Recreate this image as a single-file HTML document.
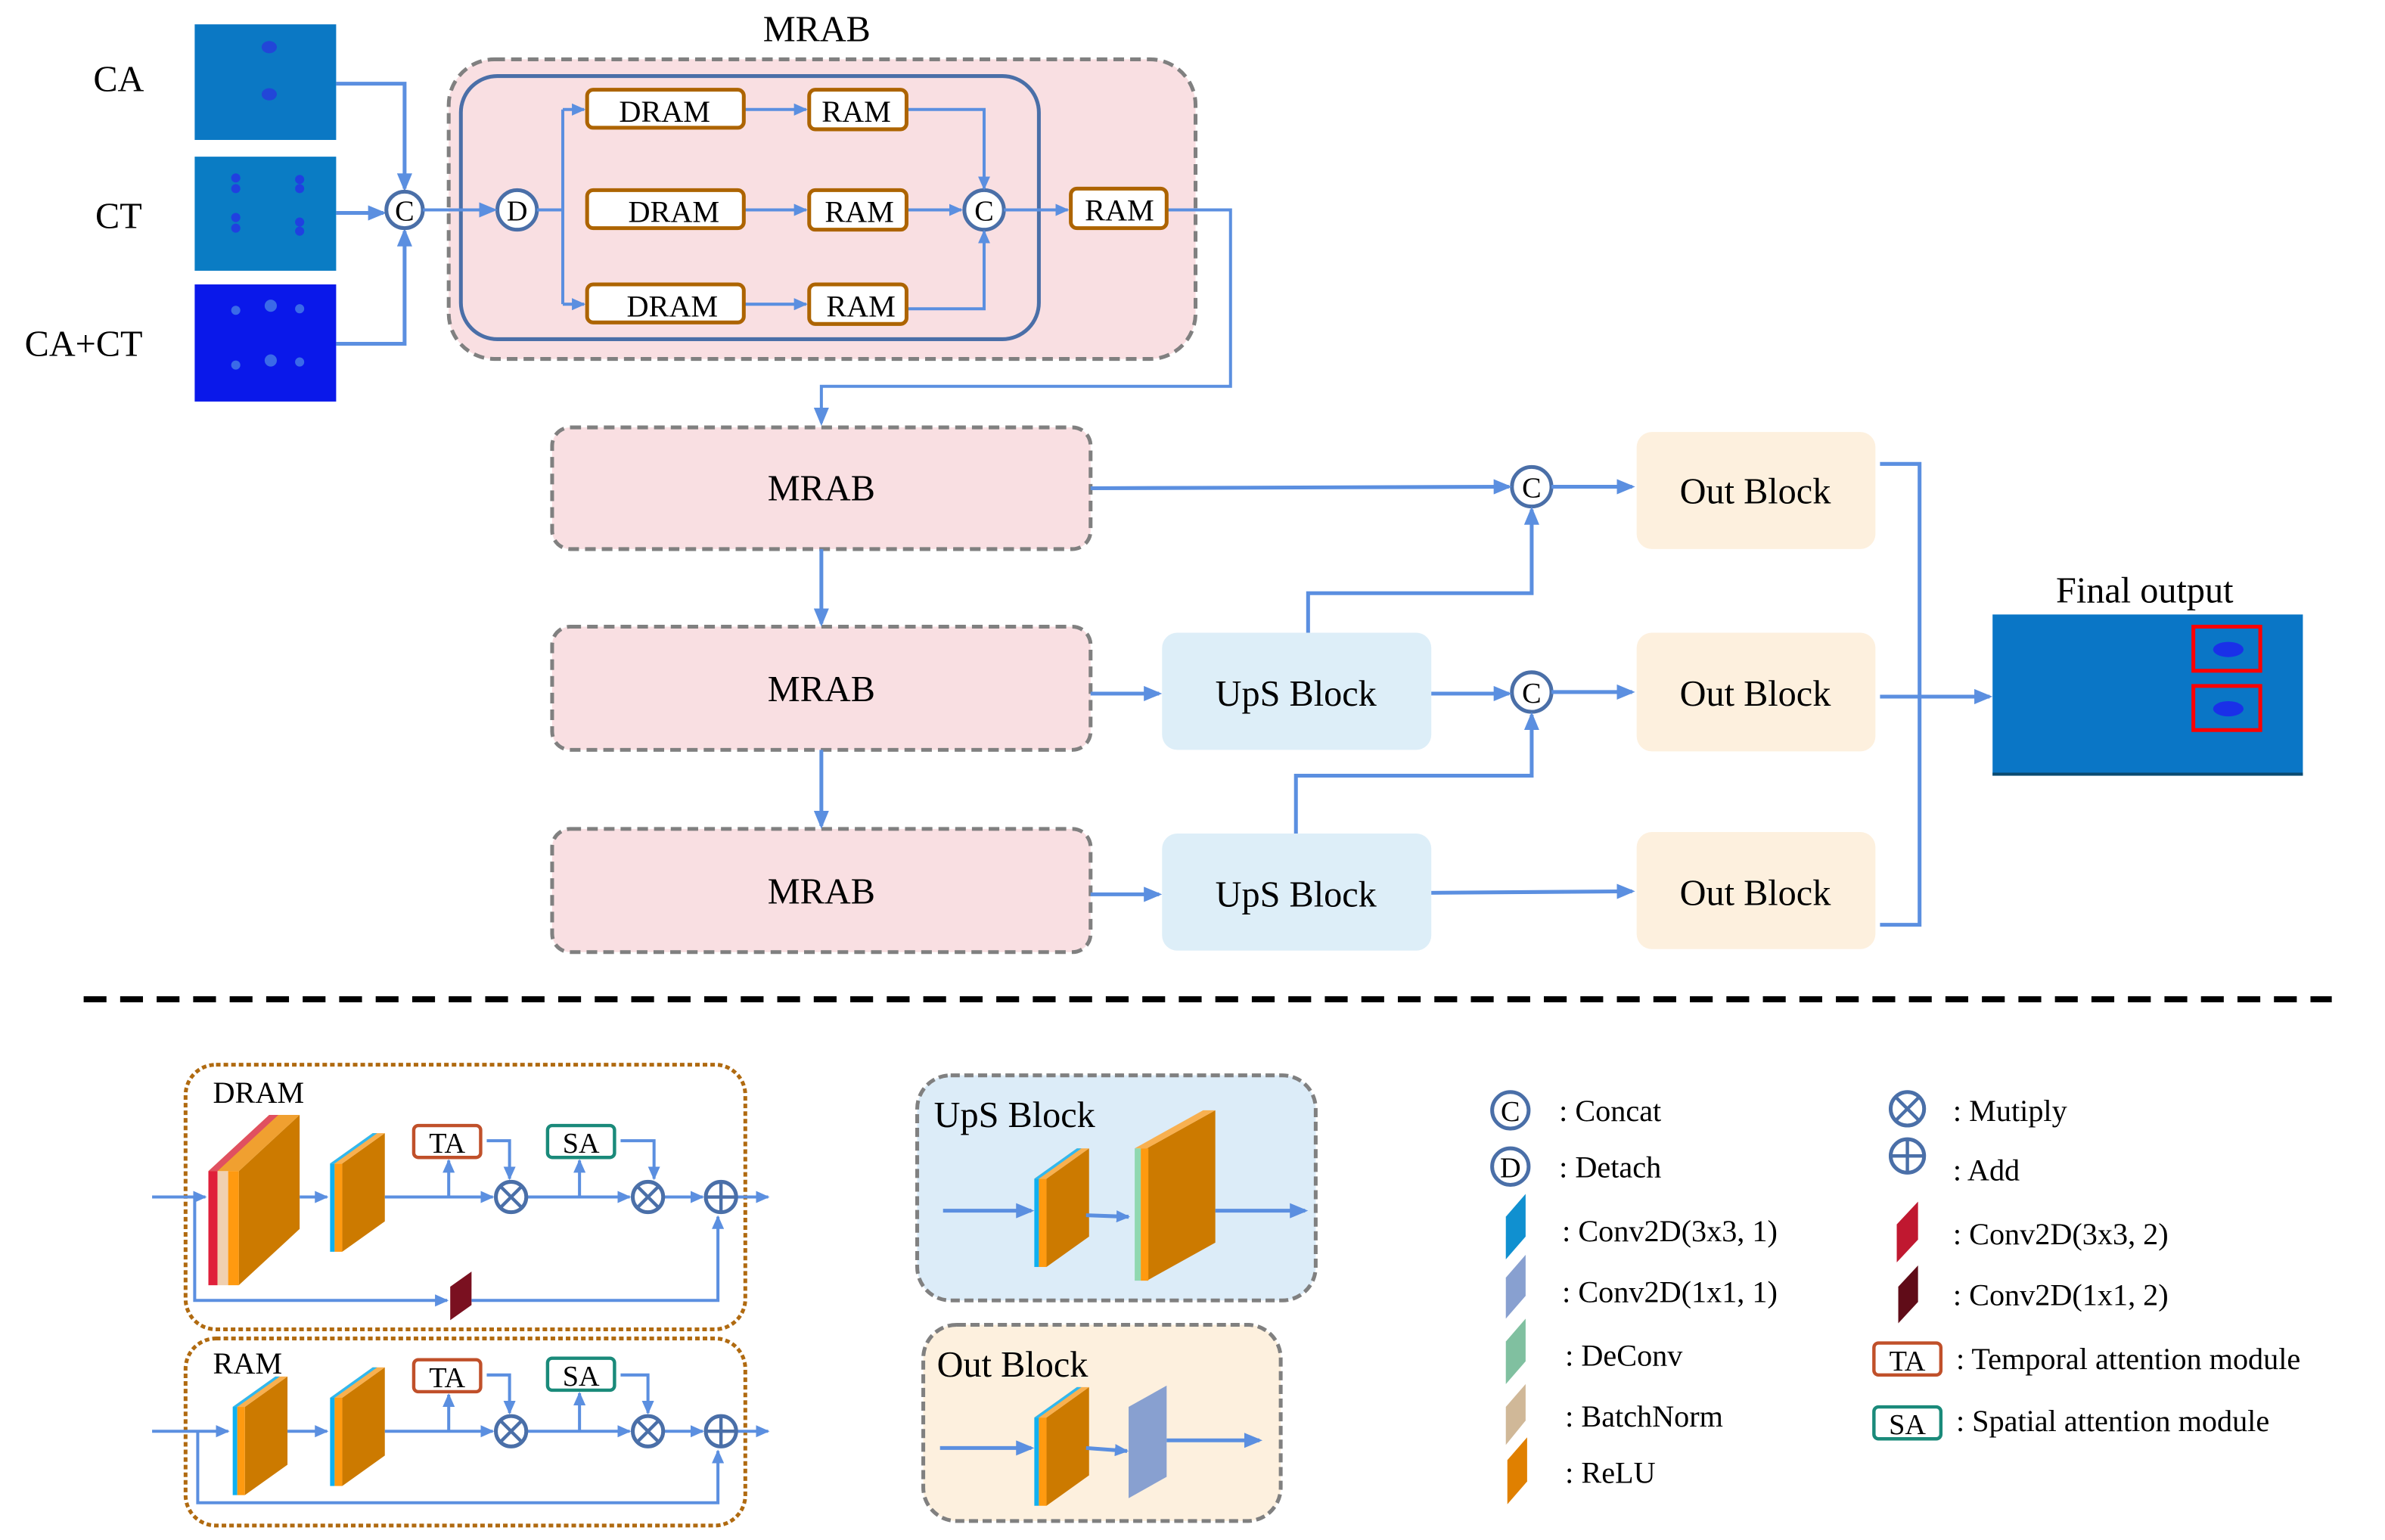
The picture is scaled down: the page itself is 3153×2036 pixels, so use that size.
<!DOCTYPE html>
<html><head><meta charset="utf-8"><style>html,body{margin:0;padding:0;background:#fff}svg{display:block}text{font-family:"Liberation Serif","DejaVu Serif","Times New Roman",serif;fill:#000}</style></head><body>
<svg width="3153" height="2036" viewBox="0 0 1568 1012.5" xmlns="http://www.w3.org/2000/svg" font-family="Liberation Serif, DejaVu Serif, serif">
<defs>
<marker id="a" markerWidth="12" markerHeight="10" refX="10" refY="5" orient="auto" markerUnits="userSpaceOnUse"><path d="M0,0 L12,5 L0,10 Z" fill="#5b8fe0"/></marker>
<marker id="s" markerWidth="9" markerHeight="8" refX="8" refY="4" orient="auto" markerUnits="userSpaceOnUse"><path d="M0,0 L9,4 L0,8 Z" fill="#5b8fe0"/></marker>
<g id="sb">
<polygon points="225,765 253,745 253,803 225,823" fill="#cc7a00"/>
<polygon points="217,765 245,745 253,745 225,765" fill="#f8b050"/>
<polygon points="217,765 245,745 248,745 220,765" fill="#30b8f0"/>
<rect x="217" y="765" width="3" height="58" fill="#10b0f0"/><rect x="220" y="765" width="5" height="58" fill="#ff9a10"/>
</g>
</defs>
<rect width="1568" height="1012.5" fill="#fff"/>
<!-- input images -->
<text x="78" y="60" font-size="24" text-anchor="middle">CA</text>
<text x="78" y="150" font-size="24" text-anchor="middle">CT</text>
<text x="55" y="234" font-size="24" text-anchor="middle">CA+CT</text>
<rect x="128" y="16" width="93" height="76" fill="#0b78c4"/>
<ellipse cx="177" cy="31" rx="5" ry="4" fill="#2246d8"/><ellipse cx="177" cy="62" rx="5" ry="4" fill="#2246d8"/>
<rect x="128" y="103" width="93" height="75" fill="#0a7cc4"/>
<g fill="#2040e0"><circle cx="155" cy="117" r="3"/><circle cx="155" cy="124" r="3"/><circle cx="197" cy="118" r="3"/><circle cx="197" cy="124" r="3"/><circle cx="155" cy="143" r="3"/><circle cx="155" cy="150" r="3"/><circle cx="197" cy="146" r="3"/><circle cx="197" cy="152" r="3"/></g>
<rect x="128" y="187" width="93" height="77" fill="#0a18ea"/>
<g fill="#3a6ae8"><circle cx="155" cy="204" r="3"/><circle cx="178" cy="201" r="4"/><circle cx="197" cy="203" r="3"/><circle cx="155" cy="240" r="3"/><circle cx="178" cy="237" r="4"/><circle cx="197" cy="238" r="3"/></g>
<g stroke="#5b8fe0" stroke-width="2.5" fill="none">
<path d="M221,55 H266 V124" marker-end="url(#a)"/>
<path d="M221,140 H252" marker-end="url(#a)"/>
<path d="M221,226 H266 V152" marker-end="url(#a)"/>
</g>
<!-- MRAB big -->
<text x="537" y="27" font-size="24" text-anchor="middle">MRAB</text>
<rect x="295" y="39" width="491" height="197" rx="30" fill="#f9dfe2" stroke="#808080" stroke-width="2.5" stroke-dasharray="7,4"/>
<rect x="303" y="50" width="380" height="173" rx="24" fill="none" stroke="#4a6fa8" stroke-width="2.5"/>
<g stroke="#4a6fa8" stroke-width="2.5" fill="#fff"><circle cx="266" cy="138" r="12"/><circle cx="340" cy="138" r="13"/><circle cx="647" cy="138" r="13"/></g>
<text x="266" y="145" font-size="19" text-anchor="middle">C</text>
<text x="340" y="145" font-size="19" text-anchor="middle">D</text>
<text x="647" y="145" font-size="19" text-anchor="middle">C</text>
<g stroke="#5b8fe0" stroke-width="2" fill="none">
<path d="M278,138 H325" marker-end="url(#a)"/>
<path d="M353,138 H370"/>
<path d="M370,72 V200"/>
<path d="M370,72 H384" marker-end="url(#s)"/>
<path d="M370,200 H384" marker-end="url(#s)"/>
<path d="M489,72 H530" marker-end="url(#s)"/>
<path d="M489,138 H530" marker-end="url(#s)"/>
<path d="M489,200 H530" marker-end="url(#s)"/>
<path d="M596,72 H647 V124" marker-end="url(#s)"/>
<path d="M596,138 H632" marker-end="url(#s)"/>
<path d="M596,203 H647 V152" marker-end="url(#s)"/>
<path d="M660,138 H702" marker-end="url(#s)"/>
<path d="M767,138 H809 V254 H540 V278" marker-end="url(#a)"/>
</g>
<g fill="#fff" stroke="#ad6400" stroke-width="2.5">
<rect x="386" y="59" width="103" height="25" rx="4"/><rect x="386" y="125" width="103" height="25" rx="4"/><rect x="386" y="187" width="103" height="25" rx="4"/>
<rect x="532" y="59" width="64" height="26" rx="4"/><rect x="532" y="125" width="64" height="26" rx="4"/><rect x="532" y="187" width="64" height="26" rx="4"/>
<rect x="704" y="124" width="63" height="26" rx="4"/>
</g>
<g font-size="20" text-anchor="middle">
<text x="437" y="80">DRAM</text><text x="443" y="146">DRAM</text><text x="442" y="208">DRAM</text>
<text x="563" y="80">RAM</text><text x="565" y="146">RAM</text><text x="566" y="208">RAM</text><text x="736" y="145">RAM</text>
</g>
<!-- MRAB rows -->
<g fill="#f9dfe2" stroke="#808080" stroke-width="2.5" stroke-dasharray="7,4">
<rect x="363" y="281" width="354" height="80" rx="12"/><rect x="363" y="412" width="354" height="81" rx="12"/><rect x="363" y="545" width="354" height="81" rx="12"/>
</g>
<g fill="#ddeef8"><rect x="764" y="416" width="177" height="77" rx="10"/><rect x="764" y="548" width="177" height="77" rx="10"/></g>
<g fill="#fdf0de"><rect x="1076" y="284" width="157" height="77" rx="10"/><rect x="1076" y="416" width="157" height="78" rx="10"/><rect x="1076" y="547" width="157" height="77" rx="10"/></g>
<g font-size="24" text-anchor="middle">
<text x="540" y="329">MRAB</text><text x="540" y="461">MRAB</text><text x="540" y="594">MRAB</text>
<text x="852" y="464">UpS Block</text><text x="852" y="596">UpS Block</text>
<text x="1154" y="331">Out Block</text><text x="1154" y="464">Out Block</text><text x="1154" y="595">Out Block</text>
</g>
<g stroke="#4a6fa8" stroke-width="2.5" fill="#fff"><circle cx="1007" cy="320" r="13"/><circle cx="1007" cy="455" r="13"/></g>
<text x="1007" y="327" font-size="19" text-anchor="middle">C</text>
<text x="1007" y="462" font-size="19" text-anchor="middle">C</text>
<g stroke="#5b8fe0" stroke-width="2.5" fill="none">
<path d="M540,361 V410" marker-end="url(#a)"/>
<path d="M540,493 V543" marker-end="url(#a)"/>
<path d="M717,321 L992,320" marker-end="url(#a)"/>
<path d="M1020,320 H1073" marker-end="url(#a)"/>
<path d="M860,416 V390 H1007 V335" marker-end="url(#a)"/>
<path d="M717,456 H762" marker-end="url(#a)"/>
<path d="M941,456 H992" marker-end="url(#a)"/>
<path d="M1020,455 H1073" marker-end="url(#a)"/>
<path d="M852,548 V510 H1007 V470" marker-end="url(#a)"/>
<path d="M717,588 H762" marker-end="url(#a)"/>
<path d="M941,587 L1073,586" marker-end="url(#a)"/>
<path d="M1236,305 H1262 V608 H1236"/>
<path d="M1236,458 H1308" marker-end="url(#a)"/>
</g>
<!-- final output -->
<text x="1410" y="396" font-size="24" text-anchor="middle">Final output</text>
<rect x="1310" y="404" width="204" height="106" fill="#0a76c6"/>
<rect x="1310" y="508" width="204" height="2" fill="#0a4a70"/>
<ellipse cx="1465" cy="427" rx="10" ry="5" fill="#1a30e8"/><ellipse cx="1465" cy="466" rx="10" ry="5" fill="#1a30e8"/>
<g fill="none" stroke="#ff0000" stroke-width="2.5"><rect x="1442" y="412" width="44" height="29"/><rect x="1442" y="451" width="44" height="29"/></g>
<!-- dashed separator -->
<line x1="55" y1="657" x2="1533" y2="657" stroke="#000" stroke-width="4" stroke-dasharray="15,9"/>
<!-- DRAM legend -->
<rect x="122" y="700" width="368" height="174" rx="20" fill="none" stroke="#b06a10" stroke-width="2.5" stroke-dasharray="3,2"/>
<text x="140" y="725" font-size="20">DRAM</text>
<rect x="122" y="880" width="368" height="123" rx="20" fill="none" stroke="#b06a10" stroke-width="2.5" stroke-dasharray="3,2"/>
<text x="140" y="903" font-size="20">RAM</text>
<!-- big block -->
<polygon points="157,770 197,733 197,808 157,845" fill="#cc7a00"/>
<polygon points="137,770 177,733 197,733 157,770" fill="#f0a030"/>
<polygon points="137,770 177,733 183,733 143,770" fill="#e05060"/>
<rect x="137" y="770" width="6" height="75" fill="#e0203a"/><rect x="143" y="770" width="7" height="75" fill="#f0d0b0"/><rect x="150" y="770" width="7" height="75" fill="#ff9a10"/>
<use href="#sb"/>
<use href="#sb" x="0" y="154"/>
<use href="#sb" x="-64" y="160"/>
<!-- dark red conv -->
<polygon points="296,846 310,836 310,858 296,868" fill="#7a1020"/>
<g fill="#fff" stroke-width="2.2"><rect x="272" y="740" width="44" height="21" rx="3" stroke="#c0502a"/><rect x="360" y="740" width="44" height="21" rx="3" stroke="#1a8a7a"/>
<rect x="272" y="894" width="44" height="21" rx="3" stroke="#c0502a"/><rect x="360" y="893" width="44" height="21" rx="3" stroke="#1a8a7a"/></g>
<g font-size="19" text-anchor="middle"><text x="294" y="758">TA</text><text x="382" y="758">SA</text><text x="294" y="912">TA</text><text x="382" y="911">SA</text></g>
<g stroke="#5b8fe0" stroke-width="2" fill="none">
<path d="M100,787 H135" marker-end="url(#s)"/>
<path d="M197,787 H215" marker-end="url(#s)"/>
<path d="M253,787 H324" marker-end="url(#s)"/>
<path d="M295,787 V763" marker-end="url(#s)"/>
<path d="M320,750 H335 V775" marker-end="url(#s)"/>
<path d="M347,787 H414" marker-end="url(#s)"/>
<path d="M381,787 V763" marker-end="url(#s)"/>
<path d="M408,750 H430 V775" marker-end="url(#s)"/>
<path d="M437,787 H462" marker-end="url(#s)"/>
<path d="M485,787 H505" marker-end="url(#s)"/>
<path d="M128,787 V855 H294" marker-end="url(#s)"/>
<path d="M310,855 H472 V800" marker-end="url(#s)"/>
<path d="M100,941 H150" marker-end="url(#s)"/>
<path d="M189,941 H215" marker-end="url(#s)"/>
<path d="M253,941 H324" marker-end="url(#s)"/>
<path d="M295,941 V917" marker-end="url(#s)"/>
<path d="M320,904 H335 V929" marker-end="url(#s)"/>
<path d="M347,941 H414" marker-end="url(#s)"/>
<path d="M381,941 V916" marker-end="url(#s)"/>
<path d="M408,904 H426 V929" marker-end="url(#s)"/>
<path d="M437,941 H462" marker-end="url(#s)"/>
<path d="M485,941 H505" marker-end="url(#s)"/>
<path d="M130,941 V988 H472 V954" marker-end="url(#s)"/>
</g>
<g stroke="#4a6fa8" stroke-width="2.5" fill="#fff">
<circle cx="336" cy="787" r="10"/><circle cx="426" cy="787" r="10"/><circle cx="474" cy="787" r="10"/>
<circle cx="336" cy="941" r="10"/><circle cx="426" cy="941" r="10"/><circle cx="474" cy="941" r="10"/>
<circle cx="1254" cy="729" r="11"/><circle cx="1254" cy="760" r="11"/>
</g>
<g stroke="#4a6fa8" stroke-width="2.2">
<path d="M329,780 L343,794 M343,780 L329,794 M419,780 L433,794 M433,780 L419,794 M464,787 H484 M474,777 V797"/>
<path d="M329,934 L343,948 M343,934 L329,948 M419,934 L433,948 M433,934 L419,948 M464,941 H484 M474,931 V951"/>
<path d="M1246,721 L1262,737 M1262,721 L1246,737 M1243,760 H1265 M1254,749 V771"/>
</g>
<!-- UpS / Out legend -->
<rect x="603" y="707" width="262" height="148" rx="22" fill="#dcecf8" stroke="#808080" stroke-width="2.5" stroke-dasharray="6,3"/>
<text x="614" y="741" font-size="24">UpS Block</text>
<use href="#sb" x="463" y="10"/>
<polygon points="754,755 799,730 799,817 754,842" fill="#cc7a00"/>
<polygon points="746,755 791,730 799,730 754,755" fill="#f8b050"/>
<rect x="746" y="755" width="4" height="87" fill="#90d8b0"/><rect x="750" y="755" width="5" height="87" fill="#ff9a10"/>
<rect x="607" y="871" width="235" height="129" rx="22" fill="#fdf0de" stroke="#808080" stroke-width="2.5" stroke-dasharray="6,3"/>
<text x="616" y="905" font-size="24">Out Block</text>
<use href="#sb" x="463" y="167"/>
<polygon points="742,925 767,911 767,971 742,985" fill="#88a0d0"/>
<g stroke="#5b8fe0" stroke-width="2.5" fill="none">
<path d="M620,796 H678" marker-end="url(#a)"/>
<path d="M714,799 L742,800" marker-end="url(#s)"/>
<path d="M799,796 H858" marker-end="url(#a)"/>
<path d="M618,952 H678" marker-end="url(#a)"/>
<path d="M714,952 L741,954" marker-end="url(#s)"/>
<path d="M767,947 H828" marker-end="url(#a)"/>
</g>
<!-- legend right -->
<g stroke="#4a6fa8" stroke-width="2.5" fill="#fff"><circle cx="993" cy="730" r="12"/><circle cx="993" cy="767" r="12"/></g>
<text x="993" y="737" font-size="19" text-anchor="middle">C</text>
<text x="993" y="774" font-size="19" text-anchor="middle">D</text>
<polygon points="990,800 1003,785 1003,813 990,828" fill="#1090d0"/>
<polygon points="990,840 1003,825 1003,852 990,867" fill="#88a0d0"/>
<polygon points="990,882 1003,867 1003,895 990,910" fill="#80c0a0"/>
<polygon points="990,925 1003,910 1003,934 990,950" fill="#d0b898"/>
<polygon points="991,960 1004,945 1004,974 991,989" fill="#e08000"/>
<polygon points="1247,805 1261,790 1261,815 1247,830" fill="#c01830"/>
<polygon points="1248,846 1261,832 1261,856 1248,870" fill="#600c18"/>
<g fill="#fff" stroke-width="2.2"><rect x="1232" y="883" width="44" height="21" rx="3" stroke="#c0502a"/><rect x="1232" y="925" width="44" height="21" rx="3" stroke="#1a8a7a"/></g>
<g font-size="19" text-anchor="middle"><text x="1254" y="901">TA</text><text x="1254" y="943">SA</text></g>
<g font-size="20">
<text x="1025" y="737">: Concat</text>
<text x="1025" y="774">:   Detach</text>
<text x="1027" y="816">:   Conv2D(3x3, 1)</text>
<text x="1027" y="856">:   Conv2D(1x1, 1)</text>
<text x="1029" y="898">:   DeConv</text>
<text x="1029" y="938">:   BatchNorm</text>
<text x="1029" y="975">:   ReLU</text>
<text x="1284" y="737">: Mutiply</text>
<text x="1284" y="776">:   Add</text>
<text x="1284" y="818">:   Conv2D(3x3, 2)</text>
<text x="1284" y="858">:   Conv2D(1x1, 2)</text>
<text x="1286" y="900">:  Temporal attention module</text>
<text x="1286" y="941">:  Spatial attention module</text>
</g>
</svg>
</body></html>
